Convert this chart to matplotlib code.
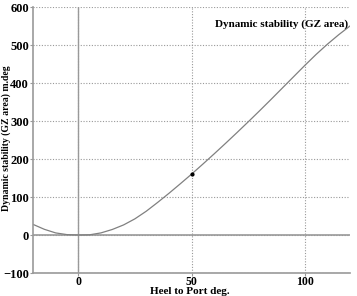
import matplotlib
matplotlib.use("Agg")
import matplotlib.pyplot as plt

heel = [-20, -15, -10, -5, 0, 5, 10, 15, 20, 25, 30, 35, 40, 45, 50, 55, 60,
        65, 70, 75, 80, 85, 90, 95, 100, 105, 110, 115, 120]
gz_area = [28, 15, 5.5, 1, 0, 0.5, 5.5, 14.5, 26.5, 42.5, 62.5, 85.5, 109.5, 134.5, 160,
           186.5, 213.5, 241, 269, 297.5, 326.5, 356, 386, 416, 446, 475, 502, 527, 550]
marker_x = [50]
marker_y = [160]
xticks = [0, 50, 100]
yticks = [-100, 0, 100, 200, 300, 400, 500, 600]

plt.rcParams['font.family'] = ['Liberation Serif', 'DejaVu Serif']
plt.rcParams['font.weight'] = 'bold'

fig = plt.figure(figsize=(3.57, 2.96), dpi=100)
L, R, T, B = 33, 350, 7, 273
ax = fig.add_axes([L/357, (296-B)/296, (R-L)/357, (B-T)/296])

ax.set_xlim(-20, 120)
ax.set_ylim(-100, 600)

ax.grid(True, color='#999999', linestyle=(0, (1, 1.5)), linewidth=0.8)
ax.axvline(0, color='#999999', linewidth=1.0)
ax.axhline(0, color='#999999', linewidth=1.2)
ax.plot(heel, gz_area, color='#808080', linewidth=0.9)
ax.plot(marker_x, marker_y, 'o', color='black', markersize=2)

for s in ['top', 'right']:
    ax.spines[s].set_visible(False)
for s in ['left', 'bottom']:
    ax.spines[s].set_color('#999999')
    ax.spines[s].set_linewidth(1.2)

ax.set_xticks(xticks)
ax.set_yticks(yticks)
ax.tick_params(axis='y', length=2, width=0.8, color='#999999', labelsize=9, pad=1)
ax.tick_params(axis='x', length=2, width=0.8, color='#999999', labelsize=8.5, pad=0.5)
for lbl in ax.get_xticklabels() + ax.get_yticklabels():
    lbl.set_fontweight('bold')

ax.set_xlabel('Heel to Port deg.', fontsize=8, fontweight='bold')
ax.xaxis.set_label_coords((190 - L) / (R - L), (B - 287) / (B - T))
ax.xaxis.label.set_va('top')
ax.set_ylabel('Dynamic stability (GZ area) m.deg', fontsize=7, fontweight='bold')
ax.yaxis.set_label_coords((6 - L) / (R - L), (B - 138) / (B - T))
ax.yaxis.label.set_va('center')
ax.text(0.995, 0.955, 'Dynamic stability (GZ area)', transform=ax.transAxes,
        ha='right', va='top', fontsize=8, fontweight='bold')

fig.savefig('out.png', dpi=100)
